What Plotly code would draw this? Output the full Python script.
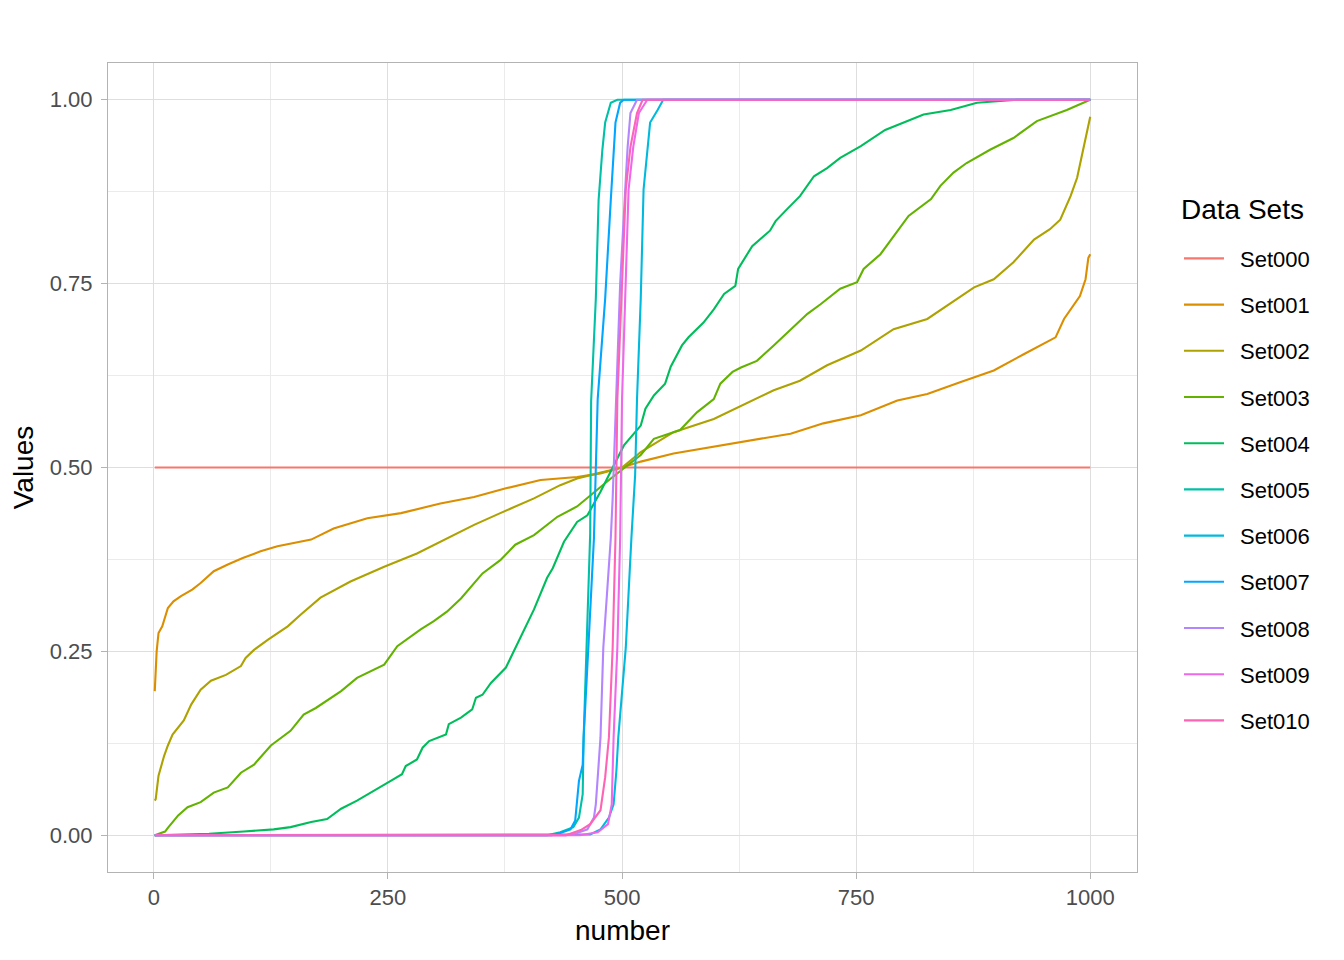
import plotly.graph_objects as go

# ---- data ----
set_names = ["Set000", "Set001", "Set002", "Set003", "Set004", "Set005",
             "Set006", "Set007", "Set008", "Set009", "Set010"]
colors = ["#F8766D", "#DB8E00", "#AEA200", "#64B200", "#00BD5C", "#00C1A7",
          "#00BADE", "#00A6FF", "#B385FF", "#EF67EB", "#FF63B6"]
legend_title = "Data Sets"

set000_x = [1, 1000]
set000_y = [0.5, 0.5]

set001_x = [1, 2, 3, 5, 9, 15, 21, 29, 41, 50, 64, 79, 95, 114, 132, 168, 192, 228, 264,
            306, 342, 377, 413, 452, 477, 500, 520, 555, 627, 680, 715, 755, 794, 826,
            861, 897, 929, 947, 963, 972, 982, 989, 995, 998, 1000]
set001_y = [0.196, 0.22, 0.25, 0.275, 0.284, 0.309, 0.318, 0.325, 0.334, 0.343, 0.359,
            0.368, 0.377, 0.386, 0.393, 0.402, 0.417, 0.431, 0.438, 0.451, 0.46, 0.472,
            0.483, 0.487, 0.492, 0.5, 0.508, 0.519, 0.535, 0.546, 0.56, 0.571, 0.591,
            0.6, 0.616, 0.632, 0.654, 0.666, 0.677, 0.702, 0.72, 0.733, 0.756, 0.785, 0.79]

set002_x = [1, 2, 5, 11, 15, 20, 32, 40, 50, 61, 77, 93, 98, 107, 122, 143, 157, 178,
            210, 246, 281, 317, 342, 370, 406, 434, 452, 474, 500, 520, 555, 598, 627,
            662, 690, 719, 755, 790, 826, 851, 876, 897, 918, 940, 957, 968, 979, 986,
            991, 996, 1000]
set002_y = [0.047, 0.049, 0.081, 0.108, 0.122, 0.137, 0.156, 0.178, 0.198, 0.21, 0.218,
            0.23, 0.241, 0.252, 0.266, 0.284, 0.3, 0.323, 0.345, 0.365, 0.383, 0.406,
            0.422, 0.438, 0.458, 0.476, 0.485, 0.492, 0.5, 0.521, 0.548, 0.566, 0.584,
            0.605, 0.618, 0.639, 0.659, 0.688, 0.702, 0.724, 0.745, 0.756, 0.779, 0.81,
            0.824, 0.837, 0.869, 0.894, 0.923, 0.95, 0.977]

set003_x = [1, 12, 15, 26, 36, 50, 64, 79, 93, 107, 125, 146, 160, 173, 200, 217, 246,
            260, 285, 299, 313, 328, 351, 370, 386, 406, 431, 452, 488, 520, 534, 562,
            580, 598, 605, 618, 627, 644, 662, 680, 698, 712, 733, 751, 758, 776, 790,
            806, 830, 840, 854, 868, 893, 918, 943, 975, 1000]
set003_y = [0.0, 0.005, 0.01, 0.027, 0.038, 0.045, 0.058, 0.065, 0.085, 0.096, 0.122,
            0.142, 0.164, 0.173, 0.196, 0.214, 0.232, 0.257, 0.28, 0.291, 0.304, 0.322,
            0.356, 0.374, 0.395, 0.408, 0.433, 0.447, 0.485, 0.517, 0.539, 0.551, 0.575,
            0.593, 0.614, 0.63, 0.636, 0.645, 0.666, 0.688, 0.709, 0.722, 0.743, 0.752,
            0.77, 0.79, 0.815, 0.842, 0.865, 0.883, 0.901, 0.914, 0.932, 0.948, 0.971,
            0.986, 1.0]

set004_x = [1, 59, 96, 128, 146, 168, 185, 200, 217, 235, 253, 265, 269, 281, 287, 294,
            312, 315, 328, 340, 344, 351, 360, 376, 392, 406, 420, 426, 438, 452, 463,
            477, 502, 520, 525, 534, 546, 552, 564, 571, 587, 598, 609, 621, 624, 639,
            658, 664, 676, 690, 705, 719, 733, 755, 781, 822, 851, 879, 922, 1000]
set004_y = [0.0, 0.002, 0.005, 0.008, 0.011, 0.018, 0.022, 0.036, 0.047, 0.061, 0.074,
            0.083, 0.094, 0.103, 0.119, 0.128, 0.137, 0.151, 0.16, 0.171, 0.187, 0.191,
            0.207, 0.228, 0.271, 0.307, 0.35, 0.363, 0.399, 0.426, 0.435, 0.467, 0.53,
            0.557, 0.58, 0.598, 0.614, 0.637, 0.666, 0.677, 0.697, 0.715, 0.736, 0.747,
            0.77, 0.801, 0.822, 0.835, 0.851, 0.869, 0.896, 0.907, 0.921, 0.937, 0.959,
            0.98, 0.986, 0.996, 1.0, 1.0]

set005_x = [1, 420, 434, 448, 454, 458, 459, 466, 467, 472, 475, 479, 482, 488, 495, 1000]
set005_y = [0, 0, 0.004, 0.011, 0.024, 0.056, 0.133, 0.41, 0.59, 0.729, 0.864, 0.932,
            0.969, 0.996, 1.0, 1.0]

set006_x = [1, 455, 466, 477, 486, 491, 494, 496, 504, 510, 514, 516, 520, 523, 527,
            530, 538, 544, 1000]
set006_y = [0, 0, 0.001, 0.008, 0.024, 0.042, 0.088, 0.133, 0.255, 0.404, 0.49, 0.593,
            0.73, 0.878, 0.936, 0.969, 0.986, 1.0, 1.0]

set007_x = [1, 425, 434, 445, 450, 454, 458, 459, 464, 470, 474, 482, 488, 491, 493,
            498, 502, 1000]
set007_y = [0, 0, 0.003, 0.008, 0.02, 0.074, 0.096, 0.133, 0.255, 0.404, 0.593, 0.73,
            0.864, 0.919, 0.969, 0.996, 1.0, 1.0]

set008_x = [1, 440, 452, 463, 470, 472, 475, 477, 480, 488, 490, 492, 498, 504, 506,
            509, 516, 1000]
set008_y = [0, 0, 0.003, 0.008, 0.024, 0.042, 0.096, 0.133, 0.255, 0.404, 0.458, 0.526,
            0.75, 0.892, 0.936, 0.982, 1.0, 1.0]

set009_x = [1, 455, 474, 485, 489, 491, 495, 498, 500, 504, 507, 512, 518, 527, 1000]
set009_y = [0, 0, 0.004, 0.015, 0.042, 0.133, 0.255, 0.404, 0.593, 0.75, 0.878, 0.936,
            0.982, 1.0, 1.0]

set010_x = [1, 440, 456, 466, 477, 482, 486, 490, 493, 495, 500, 504, 509, 516, 522, 1000]
set010_y = [0, 0, 0.007, 0.015, 0.034, 0.079, 0.133, 0.255, 0.404, 0.593, 0.75, 0.878,
            0.936, 0.982, 1.0, 1.0]

x_tick_vals = [0, 250, 500, 750, 1000]
y_tick_vals = [0.0, 0.25, 0.5, 0.75, 1.0]
y_tick_text = ["0.00", "0.25", "0.50", "0.75", "1.00"]

series = [
    (set000_x, set000_y), (set001_x, set001_y), (set002_x, set002_y),
    (set003_x, set003_y), (set004_x, set004_y), (set005_x, set005_y),
    (set006_x, set006_y), (set007_x, set007_y), (set008_x, set008_y),
    (set009_x, set009_y), (set010_x, set010_y),
]

FONT = "Liberation Sans, Arial, sans-serif"

fig = go.Figure()
for name, col, (xs, ys) in zip(set_names, colors, series):
    fig.add_trace(go.Scatter(
        x=xs, y=ys, mode="lines", name="\u2002" + name, legendgroup=name,
        line=dict(color=col, width=2.1),
    ))

axis_common = dict(
    showgrid=True, gridcolor="#DEDEDE", gridwidth=1,
    showline=True, linecolor="#B3B3B3", linewidth=1, mirror=True,
    ticks="outside", tickcolor="#B3B3B3", ticklen=6, tickwidth=1,
    tickfont=dict(family=FONT, size=22, color="#4D4D4D"),
    zeroline=False,
)

fig.update_xaxes(
    **axis_common,
    range=[-48.95, 1049.95],
    tickvals=x_tick_vals,
    ticktext=[str(v) for v in x_tick_vals],
    minor=dict(showgrid=True, gridcolor="#EBEBEB", gridwidth=1,
               tickvals=[125, 375, 625, 875], ticks=""),
    title=dict(text="number", font=dict(family=FONT, size=28, color="black"), standoff=10),
)
fig.update_yaxes(
    **axis_common,
    range=[-0.05, 1.05],
    tickvals=y_tick_vals,
    ticktext=y_tick_text,
    ticklabelstandoff=4,
    minor=dict(showgrid=True, gridcolor="#EBEBEB", gridwidth=1,
               tickvals=[0.125, 0.375, 0.625, 0.875], ticks=""),
    title=dict(text="Values", font=dict(family=FONT, size=28, color="black"), standoff=10),
)

fig.add_annotation(
    text=legend_title, xref="paper", yref="paper",
    x=1.0408, y=0.8195, xanchor="left", yanchor="middle",
    showarrow=False, font=dict(family=FONT, size=28, color="black"),
)

fig.update_layout(
    width=1344, height=960,
    margin=dict(l=100, r=215, t=55, b=96, autoexpand=False),
    paper_bgcolor="white", plot_bgcolor="white",
    font=dict(family=FONT),
    legend=dict(
        font=dict(family=FONT, size=22, color="black"),
        x=1.0408, xanchor="left", y=0.7842, yanchor="top",
        tracegroupgap=14.6, bgcolor="rgba(0,0,0,0)",
        itemwidth=40,
    ),
)

fig.write_html("out.html")
